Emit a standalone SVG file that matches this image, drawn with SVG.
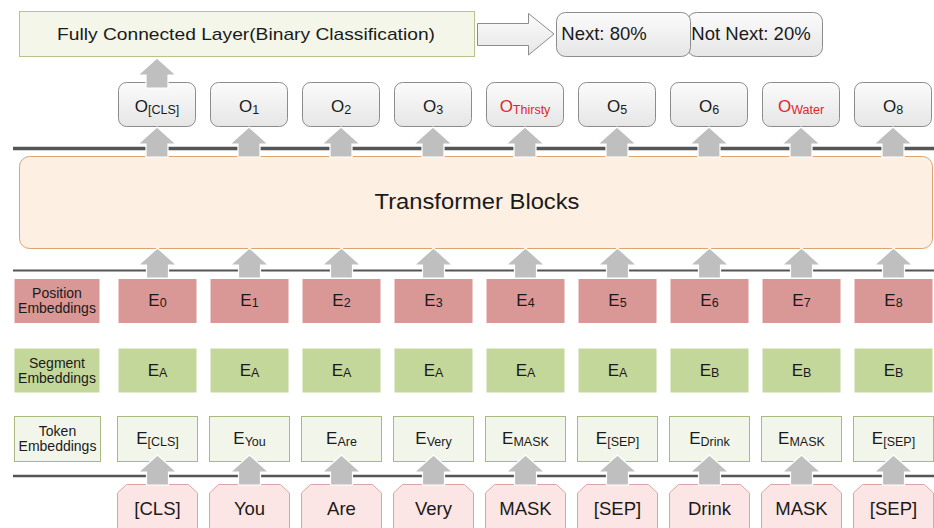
<svg xmlns="http://www.w3.org/2000/svg" xmlns:xlink="http://www.w3.org/1999/xlink" width="934" height="528" viewBox="0 0 934 528">
<defs>
<linearGradient id="gGray" x1="0" y1="0" x2="0" y2="1"><stop offset="0" stop-color="#fbfbfb"/><stop offset="1" stop-color="#e6e6e6"/></linearGradient>
<path id="arr" d="M0,0 L19,17 L11,17 L11,30 L-11,30 L-11,17 L-19,17 Z"/>
</defs>
<style>
text{font-family:"Liberation Sans",Arial,sans-serif;fill:#1a1a1a;text-anchor:middle}
.ob{fill:url(#gGray);stroke:#8c8c8c;stroke-width:1}
.pos{fill:#d99795;stroke:#ffffff;stroke-width:1}
.seg{fill:#c4d79b;stroke:#ffffff;stroke-width:1}
.tok{fill:#f2f6ea;stroke:#a9ba80;stroke-width:1}
.inp{fill:#fbe6e5;stroke:#d9a5a4;stroke-width:1}
.m{font-size:17px}
.s{font-size:12.5px}
.lbl{font-size:14px}
.w{font-size:18.5px}
.red{fill:#e0262b}
.ln{stroke:#555555;fill:none}
.a{fill:#bfbfbf;stroke:#ffffff;stroke-width:1.2}
</style>
<rect width="934" height="528" fill="#ffffff"/>

<g id="fc">
<rect x="19.5" y="11.5" width="455" height="45" fill="#f3f6e8" stroke="#b5c48e"/>
<text x="246" y="40" font-size="17" textLength="378" lengthAdjust="spacingAndGlyphs">Fully Connected Layer(Binary Classification)</text>
</g>
<g id="bigarrow">
<polygon points="477.5,23.5 528.5,23.5 528.5,13.5 554,34 528.5,55 528.5,45.5 477.5,45.5" fill="url(#gGray)" stroke="#8c8c8c"/>
</g>
<g id="notnext">
<rect x="687.5" y="12.5" width="135" height="44" rx="9" class="ob"/>
<text x="751" y="40" font-size="18.5">Not Next: 20%</text>
</g>
<g id="next">
<rect x="556.5" y="12.5" width="134" height="44" rx="9" class="ob"/>
<text x="604" y="40" font-size="18.5">Next: 80%</text>
</g>

<g id="transformer">
<rect x="19.5" y="156.5" width="913" height="92" rx="10" fill="#fdefe2" stroke="#d9a46f"/>
<text x="477" y="209" font-size="22" textLength="205" lengthAdjust="spacingAndGlyphs">Transformer Blocks</text>
</g>

<g id="outputs">
<g id="o0"><rect x="118.5" y="82.5" width="77" height="44" rx="8" class="ob"/><text x="157" y="112"><tspan class="m">O</tspan><tspan class="s" dy="1.5">[CLS]</tspan></text></g>
<g id="o1"><rect x="210.5" y="82.5" width="77" height="44" rx="8" class="ob"/><text x="249" y="112"><tspan class="m">O</tspan><tspan class="s" dy="1.5">1</tspan></text></g>
<g id="o2"><rect x="302.5" y="82.5" width="77" height="44" rx="8" class="ob"/><text x="341" y="112"><tspan class="m">O</tspan><tspan class="s" dy="1.5">2</tspan></text></g>
<g id="o3"><rect x="394.5" y="82.5" width="77" height="44" rx="8" class="ob"/><text x="433" y="112"><tspan class="m">O</tspan><tspan class="s" dy="1.5">3</tspan></text></g>
<g id="o4"><rect x="486.5" y="82.5" width="77" height="44" rx="8" class="ob"/><text x="525" y="112" class="red"><tspan class="m red">O</tspan><tspan class="s red" dy="1.5">Thirsty</tspan></text></g>
<g id="o5"><rect x="578.5" y="82.5" width="77" height="44" rx="8" class="ob"/><text x="617" y="112"><tspan class="m">O</tspan><tspan class="s" dy="1.5">5</tspan></text></g>
<g id="o6"><rect x="670.5" y="82.5" width="77" height="44" rx="8" class="ob"/><text x="709" y="112"><tspan class="m">O</tspan><tspan class="s" dy="1.5">6</tspan></text></g>
<g id="o7"><rect x="762.5" y="82.5" width="77" height="44" rx="8" class="ob"/><text x="801" y="112" class="red"><tspan class="m red">O</tspan><tspan class="s red" dy="1.5">Water</tspan></text></g>
<g id="o8"><rect x="854.5" y="82.5" width="77" height="44" rx="8" class="ob"/><text x="893" y="112"><tspan class="m">O</tspan><tspan class="s" dy="1.5">8</tspan></text></g>
</g>

<g id="position">
<g id="plabel"><rect x="14" y="278.5" width="86" height="45" class="pos"/><text x="57" y="298" class="lbl">Position</text><text x="57" y="312.5" class="lbl">Embeddings</text></g>
<g id="p0"><rect x="118" y="278.5" width="79" height="45" class="pos"/><text x="157.5" y="306"><tspan class="m">E</tspan><tspan class="s" dy="1">0</tspan></text></g>
<g id="p1"><rect x="210" y="278.5" width="79" height="45" class="pos"/><text x="249.5" y="306"><tspan class="m">E</tspan><tspan class="s" dy="1">1</tspan></text></g>
<g id="p2"><rect x="302" y="278.5" width="79" height="45" class="pos"/><text x="341.5" y="306"><tspan class="m">E</tspan><tspan class="s" dy="1">2</tspan></text></g>
<g id="p3"><rect x="394" y="278.5" width="79" height="45" class="pos"/><text x="433.5" y="306"><tspan class="m">E</tspan><tspan class="s" dy="1">3</tspan></text></g>
<g id="p4"><rect x="486" y="278.5" width="79" height="45" class="pos"/><text x="525.5" y="306"><tspan class="m">E</tspan><tspan class="s" dy="1">4</tspan></text></g>
<g id="p5"><rect x="578" y="278.5" width="79" height="45" class="pos"/><text x="617.5" y="306"><tspan class="m">E</tspan><tspan class="s" dy="1">5</tspan></text></g>
<g id="p6"><rect x="670" y="278.5" width="79" height="45" class="pos"/><text x="709.5" y="306"><tspan class="m">E</tspan><tspan class="s" dy="1">6</tspan></text></g>
<g id="p7"><rect x="762" y="278.5" width="79" height="45" class="pos"/><text x="801.5" y="306"><tspan class="m">E</tspan><tspan class="s" dy="1">7</tspan></text></g>
<g id="p8"><rect x="854" y="278.5" width="79" height="45" class="pos"/><text x="893.5" y="306"><tspan class="m">E</tspan><tspan class="s" dy="1">8</tspan></text></g>
</g>

<g id="segment">
<g id="slabel"><rect x="14" y="348" width="86" height="45" class="seg"/><text x="57" y="367.5" class="lbl">Segment</text><text x="57" y="382.5" class="lbl">Embeddings</text></g>
<g id="s0"><rect x="118" y="348" width="79" height="45" class="seg"/><text x="157.5" y="376"><tspan class="m">E</tspan><tspan class="s" dy="1">A</tspan></text></g>
<g id="s1"><rect x="210" y="348" width="79" height="45" class="seg"/><text x="249.5" y="376"><tspan class="m">E</tspan><tspan class="s" dy="1">A</tspan></text></g>
<g id="s2"><rect x="302" y="348" width="79" height="45" class="seg"/><text x="341.5" y="376"><tspan class="m">E</tspan><tspan class="s" dy="1">A</tspan></text></g>
<g id="s3"><rect x="394" y="348" width="79" height="45" class="seg"/><text x="433.5" y="376"><tspan class="m">E</tspan><tspan class="s" dy="1">A</tspan></text></g>
<g id="s4"><rect x="486" y="348" width="79" height="45" class="seg"/><text x="525.5" y="376"><tspan class="m">E</tspan><tspan class="s" dy="1">A</tspan></text></g>
<g id="s5"><rect x="578" y="348" width="79" height="45" class="seg"/><text x="617.5" y="376"><tspan class="m">E</tspan><tspan class="s" dy="1">A</tspan></text></g>
<g id="s6"><rect x="670" y="348" width="79" height="45" class="seg"/><text x="709.5" y="376"><tspan class="m">E</tspan><tspan class="s" dy="1">B</tspan></text></g>
<g id="s7"><rect x="762" y="348" width="79" height="45" class="seg"/><text x="801.5" y="376"><tspan class="m">E</tspan><tspan class="s" dy="1">B</tspan></text></g>
<g id="s8"><rect x="854" y="348" width="79" height="45" class="seg"/><text x="893.5" y="376"><tspan class="m">E</tspan><tspan class="s" dy="1">B</tspan></text></g>
</g>

<g id="token">
<g id="tlabel"><rect x="14.5" y="416.5" width="86" height="45" class="tok"/><text x="57.5" y="436" class="lbl">Token</text><text x="57.5" y="450.5" class="lbl">Embeddings</text></g>
<g id="t0"><rect x="117.5" y="416.5" width="80" height="45" class="tok"/><text x="157.5" y="444"><tspan class="m">E</tspan><tspan class="s" dy="1.5">[CLS]</tspan></text></g>
<g id="t1"><rect x="209.5" y="416.5" width="80" height="45" class="tok"/><text x="249.5" y="444"><tspan class="m">E</tspan><tspan class="s" dy="1.5">You</tspan></text></g>
<g id="t2"><rect x="301.5" y="416.5" width="80" height="45" class="tok"/><text x="341.5" y="444"><tspan class="m">E</tspan><tspan class="s" dy="1.5">Are</tspan></text></g>
<g id="t3"><rect x="393.5" y="416.5" width="80" height="45" class="tok"/><text x="433.5" y="444"><tspan class="m">E</tspan><tspan class="s" dy="1.5">Very</tspan></text></g>
<g id="t4"><rect x="485.5" y="416.5" width="80" height="45" class="tok"/><text x="525.5" y="444"><tspan class="m">E</tspan><tspan class="s" dy="1.5">MASK</tspan></text></g>
<g id="t5"><rect x="577.5" y="416.5" width="80" height="45" class="tok"/><text x="617.5" y="444"><tspan class="m">E</tspan><tspan class="s" dy="1.5">[SEP]</tspan></text></g>
<g id="t6"><rect x="669.5" y="416.5" width="80" height="45" class="tok"/><text x="709.5" y="444"><tspan class="m">E</tspan><tspan class="s" dy="1.5">Drink</tspan></text></g>
<g id="t7"><rect x="761.5" y="416.5" width="80" height="45" class="tok"/><text x="801.5" y="444"><tspan class="m">E</tspan><tspan class="s" dy="1.5">MASK</tspan></text></g>
<g id="t8"><rect x="853.5" y="416.5" width="80" height="45" class="tok"/><text x="893.5" y="444"><tspan class="m">E</tspan><tspan class="s" dy="1.5">[SEP]</tspan></text></g>
</g>

<g id="inputs">
<g id="i0"><path d="M117.5,530 V493 L126.5,484.5 H188.5 L197.5,493 V530" class="inp"/><text x="157.5" y="515" class="w">[CLS]</text></g>
<g id="i1"><path d="M209.5,530 V493 L218.5,484.5 H280.5 L289.5,493 V530" class="inp"/><text x="249.5" y="515" class="w">You</text></g>
<g id="i2"><path d="M301.5,530 V493 L310.5,484.5 H372.5 L381.5,493 V530" class="inp"/><text x="341.5" y="515" class="w">Are</text></g>
<g id="i3"><path d="M393.5,530 V493 L402.5,484.5 H464.5 L473.5,493 V530" class="inp"/><text x="433.5" y="515" class="w">Very</text></g>
<g id="i4"><path d="M485.5,530 V493 L494.5,484.5 H556.5 L565.5,493 V530" class="inp"/><text x="525.5" y="515" class="w">MASK</text></g>
<g id="i5"><path d="M577.5,530 V493 L586.5,484.5 H648.5 L657.5,493 V530" class="inp"/><text x="617.5" y="515" class="w">[SEP]</text></g>
<g id="i6"><path d="M669.5,530 V493 L678.5,484.5 H740.5 L749.5,493 V530" class="inp"/><text x="709.5" y="515" class="w">Drink</text></g>
<g id="i7"><path d="M761.5,530 V493 L770.5,484.5 H832.5 L841.5,493 V530" class="inp"/><text x="801.5" y="515" class="w">MASK</text></g>
<g id="i8"><path d="M853.5,530 V493 L862.5,484.5 H924.5 L933.5,493 V530" class="inp"/><text x="893.5" y="515" class="w">[SEP]</text></g>
</g>

<g id="connectors">
<line x1="13" y1="148.5" x2="934" y2="148.5" class="ln" stroke-width="3.3"/>
<line x1="13" y1="270.5" x2="934" y2="270.5" class="ln" stroke-width="2.2"/>
<line x1="13" y1="476" x2="934" y2="476" class="ln" stroke-width="2.7"/>
<use xlink:href="#arr" href="#arr" x="157" y="58" class="a"/>
<use xlink:href="#arr" href="#arr" x="157" y="127" class="a"/>
<use xlink:href="#arr" href="#arr" x="249" y="127" class="a"/>
<use xlink:href="#arr" href="#arr" x="341" y="127" class="a"/>
<use xlink:href="#arr" href="#arr" x="433" y="127" class="a"/>
<use xlink:href="#arr" href="#arr" x="525" y="127" class="a"/>
<use xlink:href="#arr" href="#arr" x="617" y="127" class="a"/>
<use xlink:href="#arr" href="#arr" x="709" y="127" class="a"/>
<use xlink:href="#arr" href="#arr" x="801" y="127" class="a"/>
<use xlink:href="#arr" href="#arr" x="893" y="127" class="a"/>
<use xlink:href="#arr" href="#arr" x="157.5" y="248" class="a"/>
<use xlink:href="#arr" href="#arr" x="249.5" y="248" class="a"/>
<use xlink:href="#arr" href="#arr" x="341.5" y="248" class="a"/>
<use xlink:href="#arr" href="#arr" x="433.5" y="248" class="a"/>
<use xlink:href="#arr" href="#arr" x="525.5" y="248" class="a"/>
<use xlink:href="#arr" href="#arr" x="617.5" y="248" class="a"/>
<use xlink:href="#arr" href="#arr" x="709.5" y="248" class="a"/>
<use xlink:href="#arr" href="#arr" x="801.5" y="248" class="a"/>
<use xlink:href="#arr" href="#arr" x="893.5" y="248" class="a"/>
<use xlink:href="#arr" href="#arr" x="157.5" y="455" class="a"/>
<use xlink:href="#arr" href="#arr" x="249.5" y="455" class="a"/>
<use xlink:href="#arr" href="#arr" x="341.5" y="455" class="a"/>
<use xlink:href="#arr" href="#arr" x="433.5" y="455" class="a"/>
<use xlink:href="#arr" href="#arr" x="525.5" y="455" class="a"/>
<use xlink:href="#arr" href="#arr" x="617.5" y="455" class="a"/>
<use xlink:href="#arr" href="#arr" x="709.5" y="455" class="a"/>
<use xlink:href="#arr" href="#arr" x="801.5" y="455" class="a"/>
<use xlink:href="#arr" href="#arr" x="893.5" y="455" class="a"/>
</g>
</svg>
